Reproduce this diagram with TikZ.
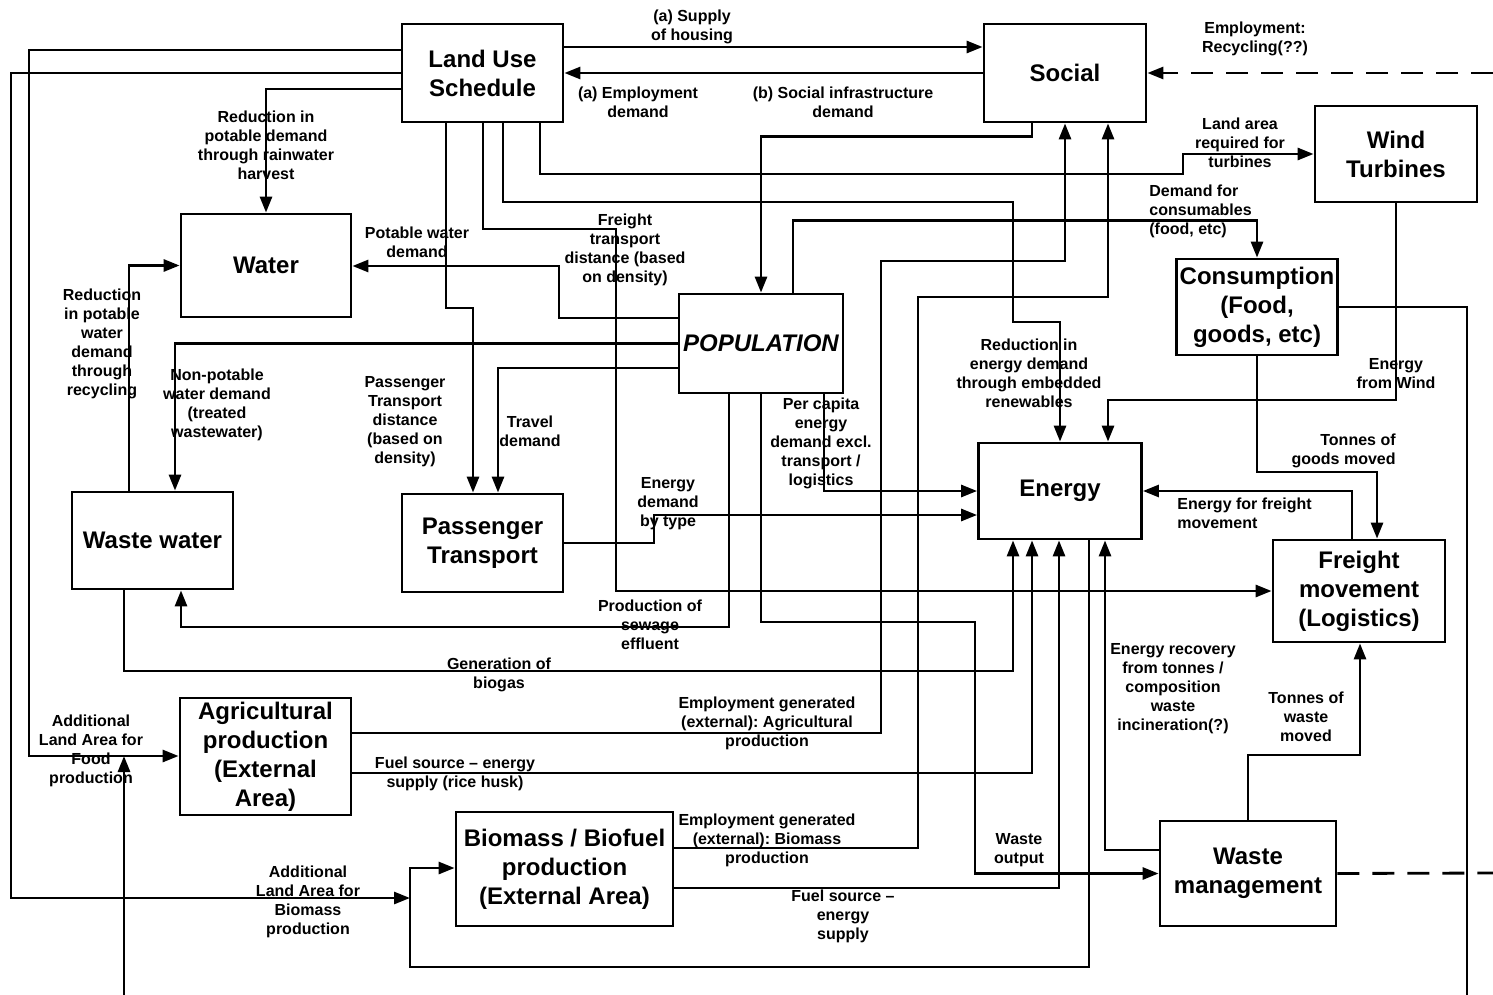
\documentclass[tikz,border=0pt]{standalone}
\usepackage{fontspec}
\setmainfont{Liberation Sans}
\usetikzlibrary{arrows.meta}
\frenchspacing

\begin{document}
\begin{tikzpicture}[x=1pt, y=-1pt, line width=2.8pt,
  blk/.style={draw, inner sep=2pt, align=center, font=\fontsize{24}{29}\selectfont\bfseries},
  lab/.style={align=center, inner sep=0pt, font=\fontsize{16}{19}\selectfont\bfseries},
  link/.style={-{Triangle[length=16pt, width=12pt]}},
  dashline/.style={dash pattern=on 22pt off 13pt}]
  \useasboundingbox (0,0) rectangle (1493,995);

  % Boxes
  \node[blk, minimum width=161pt, minimum height=98pt] (lus) at (482.5,73) {Land Use\\Schedule};
  \node[blk, minimum width=162pt, minimum height=98pt] (social) at (1065,73) {Social};
  \node[blk, minimum width=162pt, minimum height=96pt] (wind) at (1396,154) {Wind\\Turbines};
  \node[blk, minimum width=170pt, minimum height=103pt] (water) at (266,265.5) {Water};
  \node[blk, minimum width=161pt, minimum height=96pt] (cons) at (1257,307) {Consumption\\(Food,\\goods, etc)};
  \node[blk, minimum width=164pt, minimum height=99pt, font=\fontsize{24}{29}\selectfont\bfseries\itshape] (pop) at (761,343.5) {POPULATION};
  \node[blk, minimum width=161pt, minimum height=97pt] (ww) at (152.5,540.5) {Waste water};
  \node[blk, minimum width=161pt, minimum height=98pt] (pt) at (482.5,543) {Passenger\\Transport};
  \node[blk, minimum width=163pt, minimum height=96pt] (energy) at (1060,491) {Energy};
  \node[blk, minimum width=172pt, minimum height=102pt] (freight) at (1359,591) {Freight\\movement\\(Logistics)};
  \node[blk, minimum width=176pt, minimum height=105pt] (wm) at (1248,873.5) {Waste\\management};
  \node[blk, minimum width=171pt, minimum height=117pt] (agri) at (265.5,756.5) {Agricultural\\production\\(External\\Area)};
  \node[blk, minimum width=217pt, minimum height=114pt] (bio) at (564.5,869) {Biomass / Biofuel\\production\\(External Area)};

  % Land use schedule <-> social
  \draw[link] (lus.east |- 0,47) -- (social.west |- 0,47);
  \draw[link] (social.west) -- (lus.east);

  % Land use schedule, left side
  \draw[link] (lus.west |- 0,89) -| (water.north);
  \draw[link] (lus.west |- 0,50) -| (29,756) -- (agri.west |- 0,756);
  \coordinate (biojoin) at (410,898);
  \draw[link] (lus.west) -| (11,898) -- (biojoin);

  % Land use schedule, bottom
  \draw[link] (lus.south -| 446,0) |- (473,308) -- (pt.north -| 473,0);
  \draw[link] (lus.south -| 483,0) |- (616,229) |- (freight.west);
  \draw[link] (lus.south -| 503,0) |- (1013,202) |- (1060,322) -- (energy.north);
  \draw[link] (lus.south -| 540,0) |- (1183,174) |- (wind.west);

  % Social
  \draw[link] (social.south -| 1032,0) -- ++(0,13) -| (pop.north);

  % Population
  \draw[link] (pop.west |- 0,318) -| (559,266) -- (water.east |- 0,266);
  \draw[link] (pop.west) -| (ww.north -| 175,0);
  \draw[link] (pop.west |- 0,368) -| (pt.north -| 498,0);
  \draw[link] (pop.north -| 793,0) -- ++(0,-72) -| (cons.north);
  \draw[link] (pop.south -| 824,0) |- (energy.west);
  \draw[link] (pop.south -| 729,0) |- (181,627) -- (ww.south -| 181,0);
  \draw[link] (pop.south -| 761,0) |- (975,622) |- (wm.west);

  % Waste water, passenger transport
  \draw[link] (ww.north -| 129,0) |- (water.west);
  \draw[link] (ww.south -| 124,0) |- (1013,671) -- (energy.south -| 1013,0);
  \draw[link] (pt.east) -| (654,515) -- (energy.west |- 0,515);

  % Agricultural production
  \draw[link] (agri.east |- 0,733) -| (881,261) -| (social.south -| 1065,0);
  \draw[link] (agri.east |- 0,773) -| (energy.south -| 1032,0);

  % Biomass
  \draw[link] (bio.east |- 0,848) -| (918,297) -| (social.south -| 1108,0);
  \draw[link] (bio.east |- 0,888) -| (energy.south -| 1059,0);
  \draw[link] (energy.south -| 1089,0) |- (410,967) |- (bio.west |- 0,868);

  % Wind, consumption, freight, waste
  \draw[link] (wind.south) |- (1108,400) -- (energy.north -| 1108,0);
  \draw[link] (cons.south) |- (1377,472) -- (freight.north -| 1377,0);
  \draw[link] (freight.north -| 1352,0) |- (energy.east);
  \draw[link] (wm.north) |- (1360,755) -- (freight.south -| 1360,0);
  \draw[link] (wm.west |- 0,850) -| (energy.south -| 1105,0);

  % Off-page links
  \coordinate (offcons) at (1467,995);
  \coordinate (offfood) at (124,995);
  \coordinate (foodjoin) at (124,756);
  \coordinate (offsoc) at (1493,73);
  \coordinate (offwm) at (1493,873);
  \draw (cons.east) -| (offcons);
  \draw[link] (offfood) -- (foodjoin);
  \draw[link, dashline] (offsoc) -- (social.east);
  \draw[dashline] (wm.east) -- (offwm);

  % Labels
  \node[lab] (lhousing) at (692,27) {(a) Supply\\of housing};
  \node[lab] (lempl) at (638,102) {(a) Employment\\demand};
  \node[lab] (linfra) at (843,102) {(b) Social infrastructure\\demand};
  \node[lab] (lrecyc) at (1255,38.5) {Employment:\\Recycling(??)};
  \node[lab] (lrain) at (266,145.5) {Reduction in\\potable demand\\through rainwater\\harvest};
  \node[lab] (lpotable) at (417,242.5) {Potable water\\demand};
  \node[lab] (lrecycle) at (102,344) {Reduction\\in potable\\water\\demand\\through\\recycling};
  \node[lab] (lnonpot) at (217,404.5) {Non-potable\\water demand\\(treated\\wastewater)};
  \node[lab] (lptdist) at (405,421.5) {Passenger\\Transport\\distance\\(based on\\density)};
  \node[lab] (ltravel) at (530,431.5) {Travel\\demand};
  \node[lab] (lfrdist) at (625,250) {Freight\\transport\\distance (based\\on density)};
  \node[lab] (lpercap) at (821,443) {Per capita\\energy\\demand excl.\\transport /\\logistics};
  \node[lab] (lbytype) at (668,504) {Energy\\demand\\by type};
  \node[lab] (lembed) at (1029,373.5) {Reduction in\\energy demand\\through embedded\\renewables};
  \node[lab] (lturb) at (1240,143) {Land area\\required for\\turbines};
  \node[lab, anchor=west, align=left] (lconsum) at (1148,211.5) {Demand for\\consumables\\(food, etc)};
  \node[lab] (lwind) at (1396,373.5) {Energy\\from Wind};
  \node[lab, anchor=east, align=right] (lgoods) at (1397,450.5) {Tonnes of\\goods moved};
  \node[lab, anchor=west, align=left] (lfreight) at (1176,513.5) {Energy for freight\\movement};
  \node[lab] (lsewage) at (650,625) {Production of\\sewage\\effluent};
  \node[lab] (lbiogas) at (499,675) {Generation of\\biogas};
  \node[lab] (lempagri) at (767,723) {Employment generated\\(external): Agricultural\\production};
  \node[lab] (lhusk) at (455,773.5) {Fuel source -- energy\\supply (rice husk)};
  \node[lab] (lempbio) at (767,840) {Employment generated\\(external): Biomass\\production};
  \node[lab] (lfuel) at (843,916.5) {Fuel source --\\energy\\supply};
  \node[lab] (lwaste) at (1019,850.5) {Waste\\output};
  \node[lab] (lrecov) at (1173,688.5) {Energy recovery\\from tonnes /\\composition\\waste\\incineration(?)};
  \node[lab] (lwmoved) at (1306,716.5) {Tonnes of\\waste\\moved};
  \node[lab] (lfood) at (91,751) {Additional\\Land Area for\\Food\\production};
  \node[lab] (lbioland) at (308,902) {Additional\\Land Area for\\Biomass\\production};
\end{tikzpicture}
\end{document}
